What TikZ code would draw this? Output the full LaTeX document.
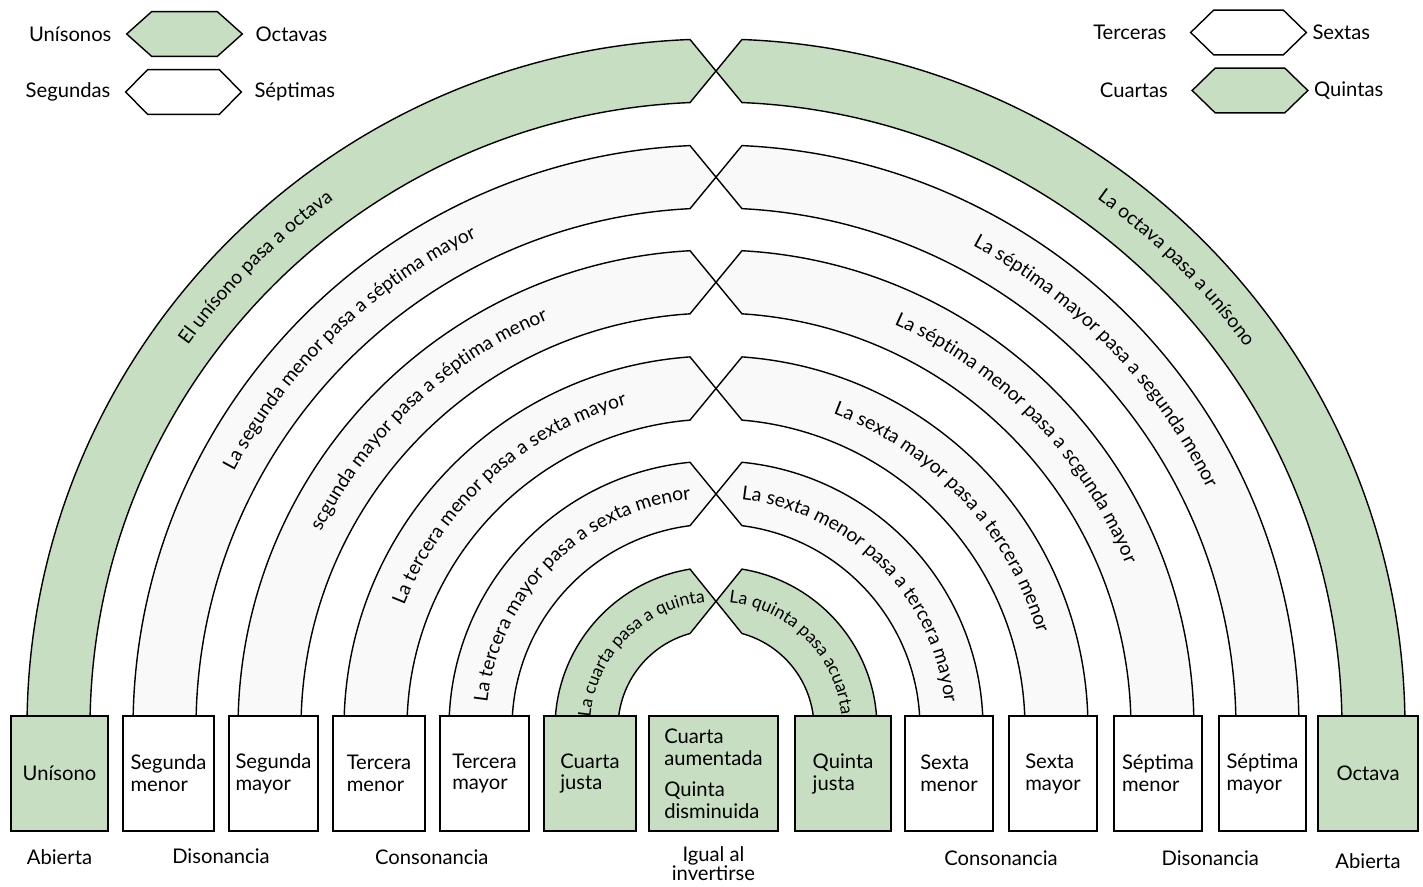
\documentclass[tikz,border=0pt]{standalone}
\usepackage{fontspec}
\setmainfont{Lato}
\usetikzlibrary{positioning,calc,decorations.text}
\definecolor{verde}{RGB}{199,222,195}
\definecolor{blanco}{RGB}{249,249,249}
\newcommand\boxfont{\fontsize{11.5}{12.5}\selectfont}
\newcommand\arcfont{\fontsize{11}{13}\selectfont}
\newcommand\smallarcfont{\fontsize{10}{12}\selectfont}
% text on an arc: radius, centre angle, font, text
\newcommand\arctext[4]{%
  \path[decorate,decoration={text along path,text align=center,text={|#3|#4}}]
    (#2+45:#1) arc[start angle=#2+45,end angle=#2-45,radius=#1];}
\newcommand\hexa[3]{% node, slant, fill
  \draw[line width=0.8pt,fill=#3] (#1.west) -- ([xshift=#2]#1.north west)
    -- ([xshift=-#2]#1.north east) -- (#1.east) -- ([xshift=-#2]#1.south east)
    -- ([xshift=#2]#1.south west) -- cycle;}
\begin{document}
\begin{tikzpicture}[x=0.02cm,y=0.02cm,
    band/.style={line width=0.8pt},
    ivbox/.style={draw,line width=0.8pt,minimum height=2.3cm,inner sep=1pt,align=left,font=\boxfont},
    lbl/.style={font=\boxfont,align=center},
    hexspot/.style={minimum width=2.3cm,minimum height=0.88cm,inner sep=0pt}]
  \useasboundingbox (-716,-158) rectangle (707,728);
  % bands, outer radius / fill
  \foreach \R/\c in {689/verde,583/blanco,478/blanco,372/blanco,267/blanco,161/verde}{
    \pgfmathsetmacro\r{\R-63}
    \pgfmathsetmacro\aR{asin(12/\R)}
    \pgfmathsetmacro\ar{asin(12/\r)}
    \pgfmathsetmacro\tR{acos(-26/\R)}
    \pgfmathsetmacro\tr{acos(-26/\r)}
    \pgfmathsetmacro\yX{(\R*sin(\tR)+\r*sin(\tr))/2}
    \fill[\c] (180-\aR:\R) arc[start angle=180-\aR,end angle=\tR,radius=\R] -- (0,\yX)
      -- (\tr:\r) arc[start angle=\tr,end angle=180-\ar,radius=\r] -- cycle;
    \fill[\c] (\aR:\R) arc[start angle=\aR,end angle=180-\tR,radius=\R] -- (0,\yX)
      -- (180-\tr:\r) arc[start angle=180-\tr,end angle=\ar,radius=\r] -- cycle;
    \draw[band] (180-\aR:\R) arc[start angle=180-\aR,end angle=\tR,radius=\R]
      -- (180-\tr:\r) arc[start angle=180-\tr,end angle=\ar,radius=\r];
    \draw[band] (180-\ar:\r) arc[start angle=180-\ar,end angle=\tr,radius=\r]
      -- (180-\tR:\R) arc[start angle=180-\tR,end angle=\aR,radius=\R];
  }
  % texts on the bands
  \arctext{652}{135}{\arcfont}{El unísono pasa a octava}
  \arctext{652}{45}{\arcfont}{La octava pasa a unísono}
  \arctext{546}{134}{\arcfont}{La segunda menor pasa a séptima mayor}
  \arctext{546}{44}{\arcfont}{La séptima mayor pasa a segunda menor}
  \arctext{441}{133}{\arcfont}{scgunda mayor pasa a séptima menor}
  \arctext{441}{44}{\arcfont}{La séptima menor pasa a scgunda mayor}
  \arctext{335}{132}{\arcfont}{La tercera menor pasa a sexta mayor}
  \arctext{335}{43}{\arcfont}{La sexta mayor pasa a tercera menor}
  \arctext{230}{135}{\arcfont}{La tercera mayor pasa a sexta menor}
  \arctext{230}{45}{\arcfont}{La sexta menor pasa a tercera mayor}
  \arctext{126}{135}{\smallarcfont}{La cuarta pasa a quinta}
  \arctext{126}{45}{\smallarcfont}{La quinta pasa acuarta}
  % intervals
  \foreach \n/\x/\w/\c/\t in {u1/-656.5/97/verde/{Unísono},
      u2/-547.5/91/white/{Segunda\\menor}, u3/-442.5/89/white/{Segunda\\mayor},
      u4/-337/92/white/{Tercera\\menor}, u5/-231.5/89/white/{Tercera\\mayor},
      u6/-126/92/verde/{Cuarta\\justa},
      u7/-2.5/129/verde/{Cuarta\\aumentada\\[5pt]Quinta\\disminuida},
      u8/127/96/verde/{Quinta\\justa}, u9/233/88/white/{Sexta\\menor},
      u10/337/88/white/{Sexta\\mayor}, u11/442/88/white/{Séptima\\menor},
      u12/546.5/87/white/{Séptima\\mayor}, u13/652/100/verde/{Octava}}
    \node[ivbox,fill=\c,minimum width=\w*0.02cm] (\n) at (\x,-45.5) {\t};
  \node[lbl] (ab1) at ([yshift=-0.5cm]u1.south) {Abierta};
  \node[lbl] (dis1) at ($(u2.south)!.5!(u3.south)+(0,-25)$) {Disonancia};
  \node[lbl] (con1) at ($(u4.south)!.5!(u5.south)+(0,-26)$) {Consonancia};
  \node[lbl,font=\fontsize{11.5}{11}\selectfont] (ig) at ([yshift=-0.64cm]u7.south) {Igual al\\invertirse};
  \node[lbl] (con2) at ($(u9.south)!.5!(u10.south)+(0,-27)$) {Consonancia};
  \node[lbl] (dis2) at ($(u11.south)!.5!(u12.south)+(0,-27)$) {Disonancia};
  \node[lbl] (ab2) at ([yshift=-0.58cm]u13.south) {Abierta};
  % legend
  \node[hexspot] (hx1) at (-531.5,694) {};
  \hexa{hx1}{0.5cm}{verde}
  \node[lbl,left=0.18cm of hx1] (l1) {Unísonos};
  \node[lbl,right=0.14cm of hx1] (r1) {Octavas};
  \node[hexspot] (hx2) at (-532.5,636) {};
  \hexa{hx2}{0.44cm}{white}
  \node[lbl,left=0.18cm of hx2] (l2) {Segundas};
  \node[lbl,right=0.14cm of hx2] (r2) {Séptimas};
  \node[hexspot] (hx3) at (532.5,695.5) {};
  \hexa{hx3}{0.46cm}{white}
  \node[lbl,left=0.36cm of hx3] (l3) {Terceras};
  \node[lbl,right=0cm of hx3] (r3) {Sextas};
  \node[hexspot] (hx4) at (534,637.5) {};
  \hexa{hx4}{0.46cm}{verde}
  \node[lbl,left=0.36cm of hx4] (l4) {Cuartas};
  \node[lbl,right=0cm of hx4] (r4) {Quintas};
\end{tikzpicture}
\end{document}
